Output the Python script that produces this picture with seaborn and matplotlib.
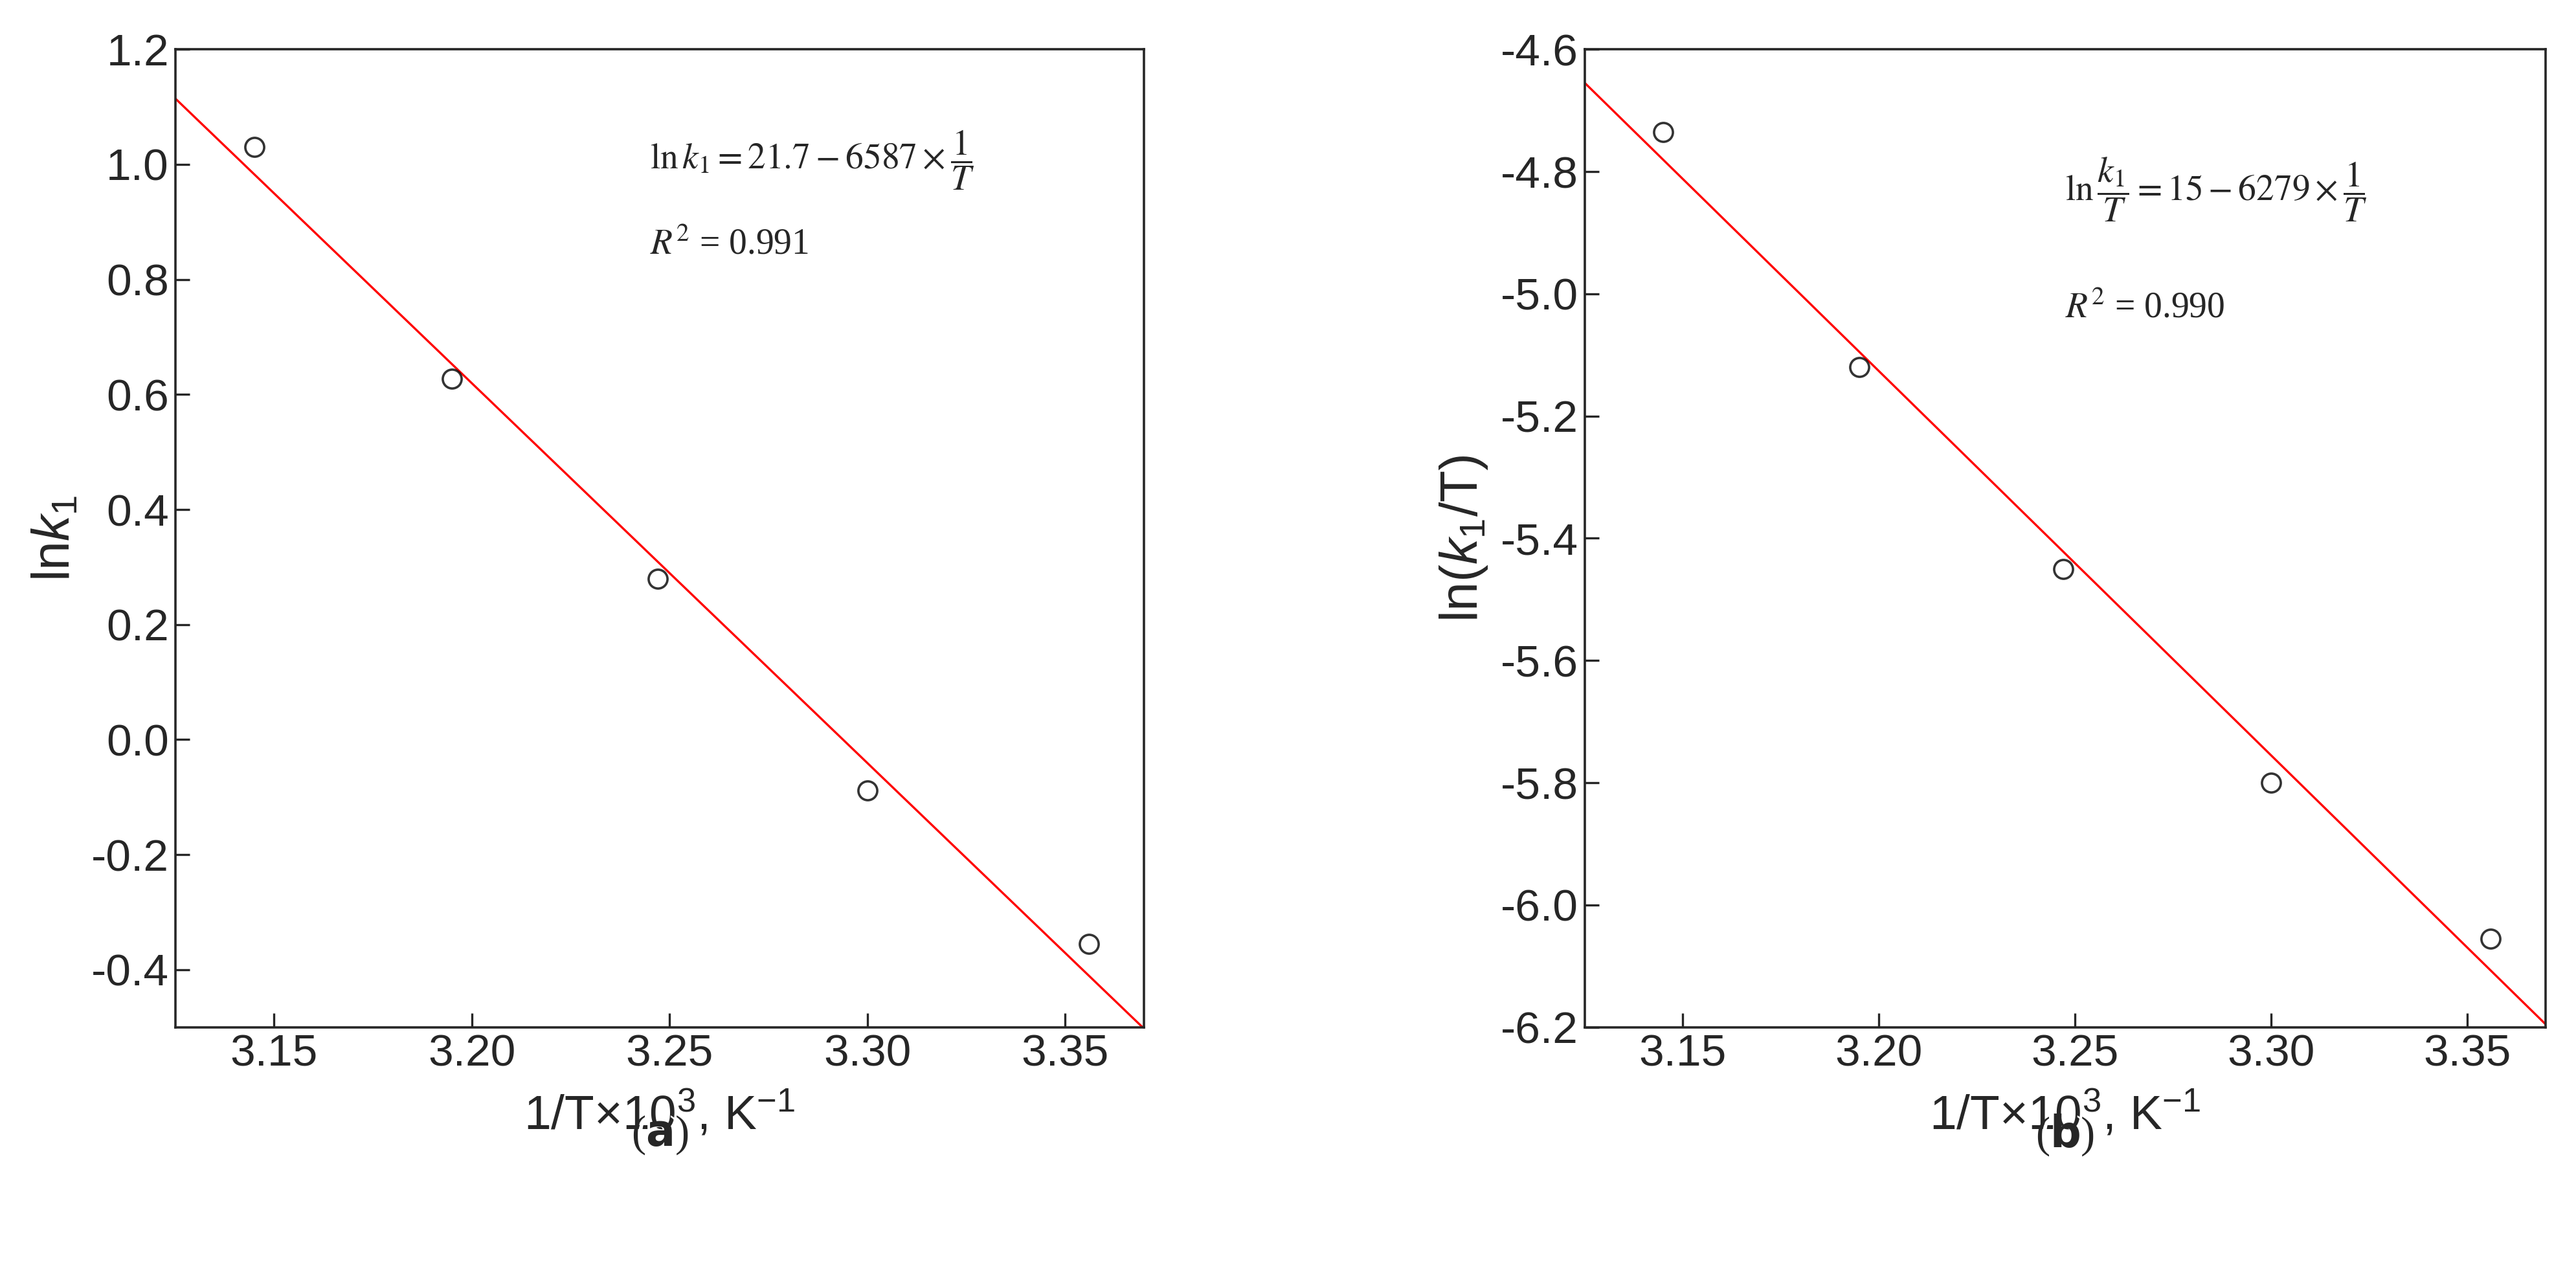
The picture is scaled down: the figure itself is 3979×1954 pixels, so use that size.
import numpy as np
import pandas as pd
import matplotlib
matplotlib.use('Agg')
import matplotlib.pyplot as plt
import seaborn as sns

# data
inv_t = [3.145, 3.195, 3.247, 3.300, 3.356]
ln_k1 = [1.03, 0.627, 0.28, -0.088, -0.355]
ln_k1_t = [-4.735, -5.12, -5.45, -5.80, -6.055]

sns.set_style('ticks')
plt.rcParams['font.family'] = ['Liberation Sans', 'DejaVu Sans']
plt.rcParams['mathtext.fontset'] = 'custom'
plt.rcParams['mathtext.rm'] = 'Liberation Sans'
plt.rcParams['mathtext.it'] = 'Liberation Sans:italic'

fig = plt.figure(figsize=(19.9, 9.77), dpi=200)
ax_a = fig.add_axes([0.068, 0.188, 0.376, 0.773])
ax_b = fig.add_axes([0.615, 0.188, 0.373, 0.773])

panels = [
    (ax_a, ln_k1, (-0.5, 1.2), np.arange(-0.4, 1.21, 0.2), r'ln$k_1$',
     r'$\mathrm{ln}\,k_1 = 21.7 - 6587 \times \dfrac{1}{T}$', '0.991', 'a', (0.49, 0.887, 0.80)),
    (ax_b, ln_k1_t, (-6.2, -4.6), np.arange(-6.2, -4.59, 0.2), r'ln($k_1$/T)',
     r'$\mathrm{ln}\,\dfrac{k_1}{T} = 15 - 6279 \times \dfrac{1}{T}$', '0.990', 'b', (0.50, 0.857, 0.735)),
]

for ax, yv, ylim, yticks, ylab, eq, r2, tag, (tx, ty1, ty2) in panels:
    df = pd.DataFrame({'x': inv_t, 'y': yv})
    ax.set_xlim(3.125, 3.37)
    ax.set_ylim(*ylim)
    sns.regplot(data=df, x='x', y='y', ax=ax, ci=None, truncate=False,
                scatter_kws=dict(s=110, facecolors='white', edgecolors='black', linewidths=1.3, zorder=3),
                line_kws=dict(color='red', lw=1.2))
    ax.set_xlim(3.125, 3.37)
    ax.set_ylim(*ylim)
    ax.set_xticks([3.15, 3.20, 3.25, 3.30, 3.35])
    ax.set_yticks(yticks)
    ax.set_yticklabels([f'{v:.1f}' for v in yticks])
    ax.tick_params(direction='in', length=8, width=1.2, labelsize=25, top=False, right=False)
    for s in ax.spines.values():
        s.set_visible(True)
        s.set_linewidth(1.3)
    ax.set_xlabel(r'1/T$\times$10$^3$, K$^{-1}$', fontsize=27, labelpad=8)
    ax.set_ylabel(ylab, fontsize=29, labelpad=6)
    with plt.rc_context({'mathtext.fontset': 'stix'}):
        ax.text(tx, ty1, eq, transform=ax.transAxes, fontsize=20,
                family='STIXGeneral', va='center')
        ax.text(tx, ty2, r'$R^2$ = ' + r2,
                transform=ax.transAxes, fontsize=20, family='Liberation Serif', va='center')
    ax.text(0.5, -0.11, f'({tag})', transform=ax.transAxes, ha='center', va='center',
            fontsize=24, family='Liberation Serif', color='white')
    ax.text(0.5, -0.11, r'($\mathbf{' + tag + r'}$)', transform=ax.transAxes, ha='center',
            va='center', fontsize=24, family='Liberation Serif')

fig.savefig('out.png', dpi=200)
